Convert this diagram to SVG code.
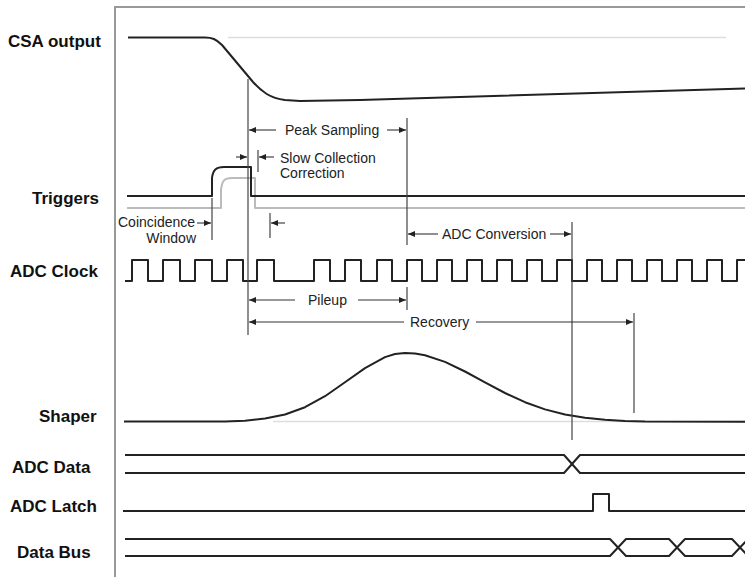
<svg xmlns="http://www.w3.org/2000/svg" width="745" height="577" viewBox="0 0 745 577">
<defs>
<style>
.lbl{font-family:"Liberation Sans",Arial,sans-serif;font-weight:bold;font-size:17px;fill:#111}
.ann{font-family:"Liberation Sans",Arial,sans-serif;font-size:14px;fill:#222}
.sig{fill:none;stroke:#222;stroke-width:2;stroke-linejoin:round}
.gsig{fill:none;stroke:#bbb;stroke-width:2;stroke-linejoin:round}
.ref{fill:none;stroke:#ddd;stroke-width:1.5}
.frame{fill:none;stroke:#999;stroke-width:2}
.mk{fill:none;stroke:#444;stroke-width:1.2}
.arr{fill:none;stroke:#333;stroke-width:1.1;marker-end:url(#ah)}
</style>
<marker id="ah" markerWidth="8" markerHeight="6" refX="7" refY="3" orient="auto" markerUnits="userSpaceOnUse">
<path d="M0,0 L7,3 L0,6 z" fill="#222"/>
</marker>
</defs>

<g id="frame">
<path class="frame" d="M115,577 V7 H745"/>
</g>

<g id="labels">
<text class="lbl" x="8" y="47">CSA output</text>
<text class="lbl" x="32" y="204">Triggers</text>
<text class="lbl" x="10" y="277">ADC Clock</text>
<text class="lbl" x="39" y="422">Shaper</text>
<text class="lbl" x="12" y="473">ADC Data</text>
<text class="lbl" x="10" y="512">ADC Latch</text>
<text class="lbl" x="17" y="558">Data Bus</text>
</g>

<g id="csa-output">
<line class="ref" x1="228" y1="37.5" x2="726" y2="37.5"/>
<path class="sig" d="M128,37.5 H205 C212,37.5 216,39 222,45 L253,82 C262,92 270,98 285,100 L300,101 L360,100 L745,88.5"/>
</g>

<g id="triggers">
<path class="gsig" d="M127,208 H221 V190 C222,181 224,178 232,178 H255 V208 H745"/>
<path class="sig" d="M127,196 H212 V178 C213,170 216,167 224,167 H251 V196 H745"/>
</g>

<g id="adc-clock">
<path class="sig" d="M125,281 H132 V260 H148 V281 H163 V260 H180 V281 H195 V260 H212 V281 H227 V260 H243 V281 H257 V260 H274 V281 H314 V260 H330 V281 H345 V260 H361 V281 H377 V260 H392 V281 H407 V260 H422 V281 H437 V260 H452 V281 H467 V260 H482 V281 H497 V260 H512 V281 H527 V260 H542 V281 H557 V260 H572 V281 H587 V260 H602 V281 H617 V260 H632 V281 H647 V260 H662 V281 H677 V260 H692 V281 H707 V260 H722 V281 H737 V260 H745"/>
</g>

<g id="shaper">
<line class="ref" x1="273" y1="421.5" x2="745" y2="421.5"/>
<path class="sig" d="M124,421.5 L225,421.4 L245,420.7 L265,418.6 L285,414.5 L305,407.2 L325,396.2 L345,382.3 L365,368.1 L385,357.1 L395,354 L405,353 L415,353.6 L425,355.3 L445,361.9 L465,371.5 L485,382.3 L505,393 L525,402.2 L545,409.4 L565,414.5 L585,417.8 L605,419.8 L625,421 L645,421.6 L745,421.8"/>
</g>

<g id="adc-data">
<path class="sig" d="M125,455 H564 L580,473 H745"/>
<path class="sig" d="M125,473 H564 L580,455 H745"/>
</g>

<g id="adc-latch">
<path class="sig" d="M123,511 H593 V494 H609 V511 H745"/>
</g>

<g id="data-bus">
<path class="sig" d="M125,539 H610 L626,556 H669 L685,539 H732 L748,556"/>
<path class="sig" d="M125,556 H610 L626,539 H669 L685,556 H732 L748,539"/>
</g>

<g id="connectors">
<line class="mk" x1="248" y1="79" x2="248" y2="335"/>
<line class="mk" x1="407" y1="118" x2="407" y2="245"/>
<line class="mk" x1="407" y1="287" x2="407" y2="310"/>
<line class="mk" x1="572" y1="222" x2="572" y2="440"/>
<line class="mk" x1="634" y1="313" x2="634" y2="413"/>
<line class="mk" x1="212" y1="198" x2="212" y2="240"/>
<line class="mk" x1="258" y1="150" x2="258" y2="172"/>
<line class="mk" x1="270" y1="213" x2="270" y2="238"/>

<line class="arr" x1="276" y1="130" x2="249" y2="130"/>
<line class="arr" x1="387" y1="130" x2="406" y2="130"/>
<line class="arr" x1="236" y1="157" x2="247" y2="157"/>
<line class="arr" x1="274" y1="157" x2="259" y2="157"/>
<line class="arr" x1="197" y1="223" x2="211" y2="223"/>
<line class="arr" x1="285" y1="223" x2="271" y2="223"/>
<line class="arr" x1="438" y1="234" x2="408" y2="234"/>
<line class="arr" x1="550" y1="234" x2="571" y2="234"/>
<line class="arr" x1="295" y1="300" x2="249" y2="300"/>
<line class="arr" x1="358" y1="300" x2="406" y2="300"/>
<line class="arr" x1="404" y1="322" x2="249" y2="322"/>
<line class="arr" x1="476" y1="322" x2="633" y2="322"/>
</g>

<g id="annotations">
<text class="ann" x="285" y="135">Peak Sampling</text>
<text class="ann" x="280" y="163">Slow Collection</text>
<text class="ann" x="280" y="178">Correction</text>
<text class="ann" x="118" y="227">Coincidence</text>
<text class="ann" x="196" y="243" text-anchor="end">Window</text>
<text class="ann" x="442" y="239">ADC Conversion</text>
<text class="ann" x="308" y="305">Pileup</text>
<text class="ann" x="410" y="327">Recovery</text>
</g>
</svg>
